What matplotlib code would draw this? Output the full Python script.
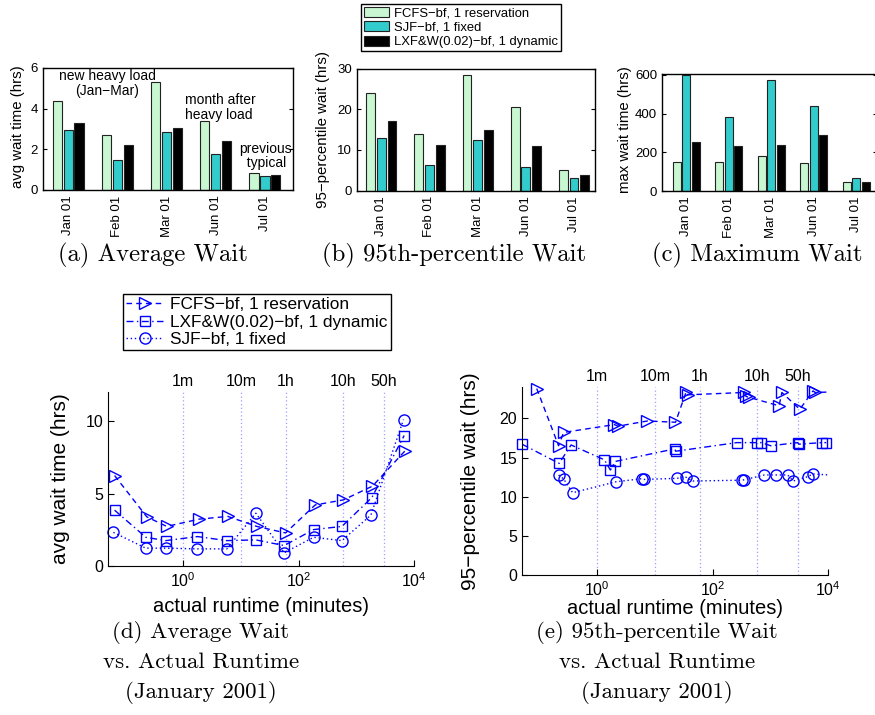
import matplotlib
matplotlib.use('Agg')
import matplotlib.pyplot as plt
from matplotlib.lines import Line2D
from matplotlib.patches import Patch
import numpy as np

plt.rcParams['font.family'] = ['Liberation Sans', 'DejaVu Sans']
plt.rcParams['mathtext.fontset'] = 'custom'
plt.rcParams['mathtext.rm'] = 'Liberation Sans'
plt.rcParams['mathtext.it'] = 'Liberation Sans:italic'
plt.rcParams['mathtext.bf'] = 'Liberation Sans:bold'

# ---------------- data ----------------
months = ['Jan 01', 'Feb 01', 'Mar 01', 'Jun 01', 'Jul 01']
bar_labels = ['FCFS\u2212bf, 1 reservation', 'SJF\u2212bf, 1 fixed', 'LXF&W(0.02)\u2212bf, 1 dynamic']
avg_fcfs = [4.36, 2.71, 5.31, 3.40, 0.86]
avg_sjf = [2.94, 1.50, 2.83, 1.78, 0.69]
avg_lxf = [3.31, 2.19, 3.03, 2.43, 0.74]
p95_fcfs = [23.9, 14.0, 28.3, 20.6, 5.0]
p95_sjf = [12.9, 6.2, 12.4, 5.75, 2.96]
p95_lxf = [17.2, 11.3, 14.9, 10.85, 3.8]
max_fcfs = [148, 150, 181, 147, 48]
max_sjf = [600, 381, 574, 440, 66]
max_lxf = [252, 231, 238, 288, 48]

line_labels = ['FCFS\u2212bf, 1 reservation', 'LXF&W(0.02)\u2212bf, 1 dynamic', 'SJF\u2212bf, 1 fixed']
d_fcfs_x = [0.065, 0.235, 0.52, 1.89, 5.95, 18.9, 59.5, 194, 600, 1910, 7030]
d_fcfs_y = [6.24, 3.39, 2.73, 3.23, 3.42, 2.73, 2.28, 4.21, 4.56, 5.51, 7.95]
d_lxf_x = [0.065, 0.226, 0.50, 1.77, 5.72, 18.2, 56.3, 182, 564, 1860, 6760]
d_lxf_y = [3.85, 1.98, 1.75, 2.03, 1.75, 1.80, 1.41, 2.51, 2.73, 4.72, 9.0]
d_sjf_x = [0.062, 0.226, 0.50, 1.77, 5.72, 18.2, 56.3, 182, 564, 1790, 6580]
d_sjf_y = [2.32, 1.23, 1.23, 1.18, 1.18, 3.64, 0.91, 1.98, 1.75, 3.51, 10.1]

e_fcfs_x = [0.09, 0.215, 0.263, 2.0, 2.3, 7.4, 22.8, 35, 37, 350, 380, 420, 1420, 1590, 3250, 5500, 6000, 15000]
e_fcfs_y = [23.8, 16.5, 18.2, 19.2, 19.0, 19.66, 19.5, 23.4, 23.0, 23.3, 22.8, 22.7, 21.6, 23.3, 21.15, 23.5, 23.3, 23.4]
e_lxf_x = [0.05, 0.22, 0.354, 1.34, 1.70, 2.08, 22, 23, 262, 600, 700, 1020, 3000, 3100, 7800, 9300]
e_lxf_y = [16.7, 14.25, 16.6, 14.7, 13.4, 14.5, 16.1, 15.8, 16.9, 16.9, 16.9, 16.5, 16.9, 16.7, 16.9, 16.9]
e_sjf_x = [0.215, 0.263, 0.377, 2.13, 6.0, 6.5, 24, 35, 45.7, 320, 350, 790, 1280, 2000, 2500, 4430, 5500, 15000]
e_sjf_y = [12.77, 12.26, 10.5, 11.9, 12.3, 12.2, 12.34, 12.47, 12.0, 12.1, 12.15, 12.77, 12.77, 12.77, 12.0, 12.55, 12.9, 12.7]

ref_x = [1, 10, 60, 600, 3000]
ref_labels = ['1m', '10m', '1h', '10h', '50h']

# ---------------- styling ----------------
W, H = 875, 715
fig = plt.figure(figsize=(W / 100, H / 100), dpi=100)

def ax_px(l, t, r, b):
    return fig.add_axes([l / W, 1 - b / H, (r - l) / W, (b - t) / H])

C_FCFS = '#c8f7d2'
C_SJF = '#33cccc'
C_LXF = '#000000'
EDGE = '#222222'
BLUE = '#0000ff'
CAP_FONT = ['cmr10', 'DejaVu Serif']

def bar_panel(rect, fc, sj, lx, ylim, yticks, xlim):
    ax = ax_px(*rect)
    x = np.arange(1, len(months) + 1)
    w = 0.185
    off = 0.222
    ax.bar(x - off, fc, w, color=C_FCFS, edgecolor=EDGE, linewidth=0.8)
    ax.bar(x, sj, w, color=C_SJF, edgecolor=EDGE, linewidth=0.8)
    ax.bar(x + off, lx, w, color=C_LXF, edgecolor=EDGE, linewidth=0.8)
    ax.set_xlim(*xlim)
    ax.set_ylim(*ylim)
    ax.set_yticks(yticks)
    ax.set_xticks(x)
    ax.set_xticklabels(months, rotation=90, fontsize=9.5)
    ax.tick_params(axis='y', labelsize=9.5, direction='in', length=3, right=True, width=0.8)
    ax.tick_params(axis='x', direction='in', length=0, pad=4)
    for s in ax.spines.values():
        s.set_linewidth(1.0)
    return ax

axa = bar_panel((43, 68, 293, 190), avg_fcfs, avg_sjf, avg_lxf, (0, 6), [0, 2, 4, 6], (0.49, 5.57))
axb = bar_panel((357, 68.5, 595, 190.5), p95_fcfs, p95_sjf, p95_lxf, (0, 30), [0, 10, 20, 30], (0.496, 5.435))
axc = bar_panel((662, 74, 877, 191), max_fcfs, max_sjf, max_lxf, (0, 605), [0, 200, 400, 600], (0.43, 5.49))

axa.text(1.80, 5.25, 'new heavy load\n(Jan\u2212Mar)', ha='center', va='center', fontsize=10, linespacing=1.05)
axa.text(3.38, 4.06, 'month after\nheavy load', ha='left', va='center', fontsize=10, linespacing=1.05)
axa.text(4.47, 1.67, 'previous\n  typical', ha='left', va='center', fontsize=10, linespacing=1.05)

fig.text(18 / W, 1 - 127 / H, 'avg wait time (hrs)', rotation=90, ha='center', va='center', fontsize=10.8)
fig.text(323 / W, 1 - 129.5 / H, '95\u2212percentile wait (hrs)', rotation=90, ha='center', va='center', fontsize=10.8)
fig.text(625 / W, 1 - 130 / H, 'max wait time (hrs)', rotation=90, ha='center', va='center', fontsize=10.8)

fig.text(153 / W, 1 - 255 / H, '(a) Average Wait', ha='center', va='center', fontsize=17.8, family=CAP_FONT)
fig.text(454 / W, 1 - 255 / H, '(b) 95th-percentile Wait', ha='center', va='center', fontsize=17.8, family=CAP_FONT)
fig.text(757 / W, 1 - 255 / H, '(c) Maximum Wait', ha='center', va='center', fontsize=17.8, family=CAP_FONT)

bar_handles = [Patch(facecolor=C_FCFS, edgecolor=EDGE, linewidth=0.8),
               Patch(facecolor=C_SJF, edgecolor=EDGE, linewidth=0.8),
               Patch(facecolor=C_LXF, edgecolor=EDGE, linewidth=0.8)]
leg1 = fig.legend(bar_handles, bar_labels, loc='upper left', bbox_to_anchor=(361 / W, 1 - 4 / H),
                  fontsize=9.4, frameon=True, fancybox=False, framealpha=1, edgecolor='black',
                  borderaxespad=0, borderpad=0.22, labelspacing=0.15, handlelength=1.9,
                  handleheight=0.8, handletextpad=0.4)
leg1.get_frame().set_linewidth(1.0)

# ---------------- line panels ----------------
ST_FCFS = dict(linestyle=(0, (4, 3)), marker='>', markersize=8.5)
ST_LXF = dict(linestyle=(0, (5, 2.5, 1, 2.5)), marker='s', markersize=7)
ST_SJF = dict(linestyle=(0, (1, 2)), marker='o', markersize=8)

def line_panel(rect, ylim, yticks):
    ax = ax_px(*rect)
    ax.set_xscale('log')
    ax.set_xlim(0.05, 1e4)
    ax.set_ylim(*ylim)
    ax.set_yticks(yticks)
    ax.set_xticks([1, 100, 10000])
    ax.set_xticklabels(['$10^0$', '$10^2$', '$10^4$'])
    ax.minorticks_off()
    ax.spines['top'].set_visible(False)
    ax.spines['right'].set_visible(False)
    ax.tick_params(labelsize=11.5, direction='in', length=4, width=0.8)
    for xv, lab in zip(ref_x, ref_labels):
        ax.axvline(xv, color='#9f9fff', linestyle=(0, (1, 2)), linewidth=0.9, zorder=0)
        ax.annotate(lab, xy=(xv, 1), xycoords=('data', 'axes fraction'), xytext=(0, 2),
                    textcoords='offset points', ha='center', va='bottom', fontsize=11.5)
    return ax

def draw_series(ax, x, y, st):
    st = dict(st)
    marker = st.pop('marker')
    ms = st.pop('markersize')
    ax.plot(x, y, color=BLUE, linewidth=1.0, **st)
    xa = np.asarray(x)
    ya = np.asarray(y)
    keep = xa <= ax.get_xlim()[1]
    ax.plot(xa[keep], ya[keep], linestyle='none', marker=marker, markersize=ms,
            markerfacecolor='none', markeredgecolor=BLUE, markeredgewidth=1.0, clip_on=False)

axd = line_panel((108, 392, 414, 566), (0, 12), [0, 5, 10])
draw_series(axd, d_fcfs_x, d_fcfs_y, ST_FCFS)
draw_series(axd, d_lxf_x, d_lxf_y, ST_LXF)
draw_series(axd, d_sjf_x, d_sjf_y, ST_SJF)

axe = line_panel((522, 387, 828, 575), (0, 24), [0, 5, 10, 15, 20])
draw_series(axe, e_fcfs_x, e_fcfs_y, ST_FCFS)
draw_series(axe, e_lxf_x, e_lxf_y, ST_LXF)
draw_series(axe, e_sjf_x, e_sjf_y, ST_SJF)

fig.text(60 / W, 1 - 479 / H, 'avg wait time (hrs)', rotation=90, ha='center', va='center', fontsize=15)
fig.text(261 / W, 1 - 606 / H, 'actual runtime (minutes)', ha='center', va='center', fontsize=14.5)
fig.text(470 / W, 1 - 481 / H, '95\u2212percentile wait (hrs)', rotation=90, ha='center', va='center', fontsize=15)
fig.text(675 / W, 1 - 608 / H, 'actual runtime (minutes)', ha='center', va='center', fontsize=14.5)

line_handles = [Line2D([], [], color=BLUE, linewidth=1.0, markerfacecolor='none', markeredgecolor=BLUE, **ST_FCFS),
                Line2D([], [], color=BLUE, linewidth=1.0, markerfacecolor='none', markeredgecolor=BLUE, **ST_LXF),
                Line2D([], [], color=BLUE, linewidth=1.0, markerfacecolor='none', markeredgecolor=BLUE, **ST_SJF)]
leg2 = fig.legend(line_handles, line_labels, loc='upper left', bbox_to_anchor=(123 / W, 1 - 294 / H),
                  fontsize=12.4, frameon=True, fancybox=False, framealpha=1, edgecolor='black',
                  borderaxespad=0, borderpad=0.2, labelspacing=0.12, handlelength=2.1,
                  handletextpad=0.45)
leg2.get_frame().set_linewidth(1.0)

for i, line in enumerate(['(d) Average Wait', 'vs. Actual Runtime', '(January 2001)']):
    fig.text(201 / W, 1 - (632 + 30.5 * i) / H, line, ha='center', va='center', fontsize=16.5, family=CAP_FONT)
for i, line in enumerate(['(e) 95th-percentile Wait', 'vs. Actual Runtime', '(January 2001)']):
    fig.text(657 / W, 1 - (632 + 30.5 * i) / H, line, ha='center', va='center', fontsize=16.5, family=CAP_FONT)

fig.savefig('out.png', dpi=100)
